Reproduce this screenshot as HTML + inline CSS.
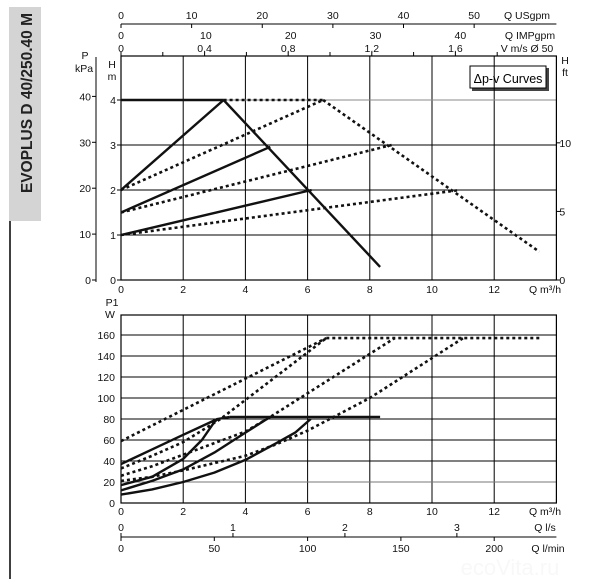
<!DOCTYPE html>
<html><head><meta charset="utf-8">
<style>
html,body{margin:0;padding:0;background:#fff;}
svg{display:block;font-family:"Liberation Sans",sans-serif;}
</style></head>
<body>
<svg id="c" width="600" height="579" viewBox="0 0 600 579" xmlns="http://www.w3.org/2000/svg">
<rect x="9" y="7" width="32" height="214" fill="#d4d4d4"/>
<line x1="10" y1="221" x2="10" y2="579" stroke="#000" stroke-width="1.5"/>
<text transform="translate(32,103) rotate(-90)" text-anchor="middle" font-size="15.5" font-weight="bold" fill="#222">EVOPLUS D 40/250.40 M</text>
<g>
<rect x="472" y="68" width="77" height="23" fill="#444"/>
<rect x="470" y="66" width="76" height="22" fill="#fff" stroke="#000" stroke-width="1"/>
<text x="508" y="83" text-anchor="middle" font-size="12.5">Δp-v Curves</text>
</g>
<g id="g"></g>
</svg>
<script>
// top chart data (Q m3/h, H m)
const hSolidFlat = [[0,4],[3.3,4]];
const hSolidMax = [[3.3,4],[8.33,0.29]];
const hSolid2 = [[0,2],[3.3,4]];
const hSolid15 = [[0,1.5],[4.8,2.96]];
const hSolid1 = [[0,1],[6.13,2]];
const hDotFlat = [[3.3,4],[6.5,4]];
const hDotMax = [[6.5,4],[13.45,0.63]];
const hDot2 = [[0,2],[6.5,4]];
const hDot15 = [[0,1.5],[8.7,3]];
const hDot1 = [[0,1],[10.9,2]];
// bottom chart data (Q m3/h, P1 W)
const pSolidFlat = [[3.5,82],[8.33,82]];
const pSolid1 = [[0,37],[1,51],[2,65],[3.1,80],[3.5,82]];
const pSolid2 = [[0,17],[1,25],[2,42],[2.6,60],[3.0,77],[3.1,80]];
const pSolid3 = [[0,12],[1,21],[2,32],[3,48],[4,67],[4.8,82]];
const pSolid4 = [[0,8],[1,13],[2,20],[3,29],[4,41],[5,57],[5.6,67],[6.1,80]];
const pDot1 = [[0,59],[6.6,157]];
const pDot2 = [[0,33],[1,45],[2,58],[3.2,80],[6.6,157]];
const pDot3 = [[0,26],[1,35],[2,46],[4,68],[4.8,82],[8.8,157]];
const pDot4 = [[0,21],[1,25],[2,31],[3,38],[4,45],[5,56],[6,69],[8,100],[11,157]];
const pDotFlat = [[6.6,157],[13.5,157]];
// tick labels
const qTicks = [0,2,4,6,8,10,12];
const hTicks = [0,1,2,3,4];
const kpaTicks = [0,10,20,30,40];
const ftTicks = [0,5,10];
const wTicks = [0,20,40,60,80,100,120,140,160];
const usTicks = [0,10,20,30,40,50];
const impTicks = [0,10,20,30,40];
const vTicks = [0,0.4,0.8,1.2,1.6];
const lsTicks = [0,1,2,3];
const lminTicks = [0,50,100,150,200];

const NS='http://www.w3.org/2000/svg';
const G=document.getElementById('g');
const X=q=>121+q*31.1;
const YH=h=>280-h*45;
const YP=p=>503-p*1.05;
function el(tag,attrs,parent){const e=document.createElementNS(NS,tag);for(const k in attrs)e.setAttribute(k,attrs[k]);(parent||G).appendChild(e);return e;}
function txt(x,y,s,anchor,name,size){const t=el('text',{x:x,y:y,'font-size':size||10.5,'text-anchor':anchor||'middle',fill:'#111'});t.textContent=s;


return t;}
function line(x1,y1,x2,y2,name,w,col){const l=el('line',{x1:x1,y1:y1,x2:x2,y2:y2,stroke:col||'#000','stroke-width':w||1});


return l;}
function curve(pts,Y,dotted,name){const d=pts.map((p,i)=>(i?'L':'M')+X(p[0]).toFixed(1)+','+Y(p[1]).toFixed(1)).join(' ');
const a={d:d,fill:'none',stroke:'#111','stroke-width':dotted?2.6:2.4,'stroke-linejoin':'round'};
if(dotted){a['stroke-dasharray']='3 3';}
const p=el('path',a);


return p;}

// ---- top chart grid
const R=X(14);
qTicks.forEach(q=>{if(q>0)line(X(q),56,X(q),280,'top-vgrid');});
hTicks.forEach(h=>{if(h>0)line(121,YH(h),R,YH(h),'top-hgrid',1,h==4?'#888':'#000');});
const b1=el('rect',{x:121,y:56,width:R-121,height:224,fill:'none',stroke:'#000','stroke-width':1.2});


qTicks.forEach(q=>txt(X(q),293,q,'middle','top-x-tick-label'));
txt(545,293,'Q m³/h','middle','top-x-axis-title');
hTicks.forEach(h=>{txt(113,YH(h)+4,h,'middle','h-m-tick-label');line(117,YH(h),121,YH(h),'h-m-tick');});
txt(112,68,'H','middle','h-axis-title');txt(112,80,'m','middle','h-axis-unit');
line(96,57,96,282,'kpa-axis-line');
kpaTicks.forEach(k=>{const y=YH(k*0.102);line(92,y,96,y,'kpa-tick');txt(91,y+4,k,'end','kpa-tick-label');});
txt(85,59,'P','middle','p-axis-title');txt(84,72,'kPa','middle','p-axis-unit');
ftTicks.forEach(f=>{const y=YH(f*0.3048);line(R,y,R+4,y,'ft-tick');txt(R+3,y+4,f,'start','ft-tick-label');});
txt(565,64,'H','middle','ft-axis-title');txt(565,76,'ft','middle','ft-axis-unit');
// top secondary axes
line(121,24,R,24,'usgpm-axis-line');
usTicks.forEach(u=>{const x=X(u*0.2271);line(x,24,x,28,'usgpm-tick');txt(x,19,u,'middle','usgpm-tick-label');});
txt(527,19,'Q USgpm','middle','usgpm-axis-title');
impTicks.forEach(u=>txt(X(u*0.2728),39,u,'middle','impgpm-tick-label'));
txt(530,39,'Q IMPgpm','middle','impgpm-axis-title');
for(let v=0;v<=1.8;v+=0.2){const x=X(v*6.72);line(x,56,x,52,'velocity-tick');}
vTicks.forEach(v=>txt(X(v*6.72),52,String(v).replace('.',','),'middle','velocity-tick-label'));
txt(527,52,'V m/s Ø 50','middle','velocity-axis-title');
// top curves
curve(hDot2,YH,1,'dp-v-dotted-2m');curve(hDot15,YH,1,'dp-v-dotted-1-5m');curve(hDot1,YH,1,'dp-v-dotted-1m');
curve(hDotFlat,YH,1,'max-dotted-flat');curve(hDotMax,YH,1,'max-dotted-curve');
curve(hSolidFlat,YH,0,'max-solid-flat');curve(hSolidMax,YH,0,'max-solid-curve');
curve(hSolid2,YH,0,'dp-v-solid-2m');curve(hSolid15,YH,0,'dp-v-solid-1-5m');curve(hSolid1,YH,0,'dp-v-solid-1m');

// ---- bottom chart
qTicks.forEach(q=>{if(q>0)line(X(q),315,X(q),503,'bottom-vgrid');});
wTicks.forEach(w=>{if(w>0)line(121,YP(w),R,YP(w),'bottom-hgrid',1,w==20?'#777':'#000');});
const b2=el('rect',{x:121,y:315,width:R-121,height:188,fill:'none',stroke:'#000','stroke-width':1.2});


wTicks.forEach(w=>txt(115,YP(w)+4,w,'end','p1-tick-label'));
txt(112,306,'P1','middle','p1-axis-title');txt(110,318,'W','middle','p1-axis-unit');
qTicks.forEach(q=>txt(X(q),515,q,'middle','bottom-x-tick-label'));
txt(545,515,'Q m³/h','middle','bottom-x-axis-title');
line(121,537,R,537,'flow-axis-line');
lsTicks.forEach(l=>{const x=X(l*3.6);line(x,533,x,537,'ls-tick');txt(x,531,l,'middle','ls-tick-label');});
txt(545,531,'Q l/s','middle','ls-axis-title');
lminTicks.forEach(l=>{const x=X(l*0.06);line(x,537,x,541,'lmin-tick');txt(x,552,l,'middle','lmin-tick-label');});
txt(548,552,'Q l/min','middle','lmin-axis-title');
curve(pDot1,YP,1,'power-dotted-1');curve(pDot2,YP,1,'power-dotted-2');curve(pDot3,YP,1,'power-dotted-3');curve(pDot4,YP,1,'power-dotted-4');curve(pDotFlat,YP,1,'power-dotted-flat');
curve(pSolidFlat,YP,0,'power-solid-flat');curve(pSolid1,YP,0,'power-solid-1');curve(pSolid2,YP,0,'power-solid-2');curve(pSolid3,YP,0,'power-solid-3');curve(pSolid4,YP,0,'power-solid-4');
const wm=txt(510,575,'ecoVita.ru','middle','watermark',22);wm.setAttribute('fill','#f8f8f8');
</script>
</body></html>
